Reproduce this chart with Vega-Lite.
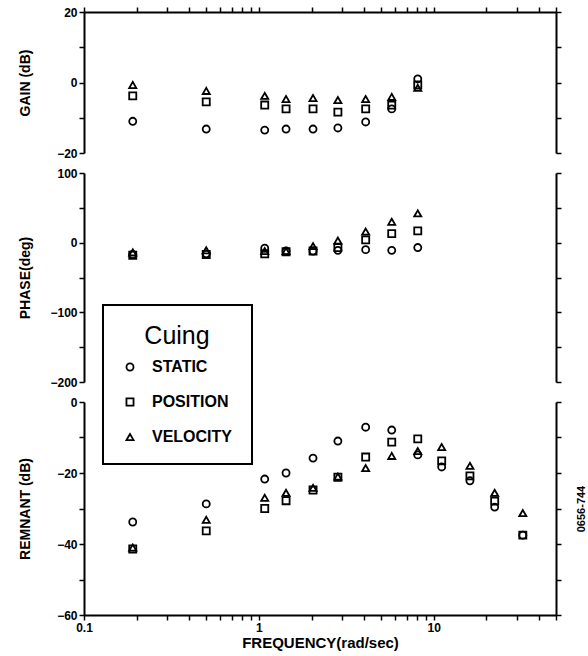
{
  "$schema": "https://vega.github.io/schema/vega-lite/v6.json",
  "padding": {"left": 18, "top": 6, "right": 0, "bottom": 1},
  "background": "white",
  "spacing": 8,
  "config": {
    "view": {"stroke": null},
    "font": "Liberation Sans",
    "axis": {"grid": false, "domainColor": "black", "domainWidth": 2, "tickColor": "black", "tickWidth": 1.5, "tickSize": 5, "labelFont": "Liberation Sans", "labelFontWeight": "bold", "labelFontSize": 12, "labelColor": "black", "labelPadding": 2, "titleFont": "Liberation Sans", "titleFontWeight": "bold", "titleFontSize": 14, "titleColor": "black"},
    "legend": {"strokeColor": "black", "strokeWidth": 2, "fillColor": "white"}
  },
  "datasets": {
    "d": [
      {"cue": "STATIC", "freq": 0.19, "gain": -11, "phase": -17, "remnant": -33.8},
      {"cue": "STATIC", "freq": 0.5, "gain": -13.2, "phase": -16, "remnant": -28.7},
      {"cue": "STATIC", "freq": 1.08, "gain": -13.5, "phase": -8, "remnant": -21.7},
      {"cue": "STATIC", "freq": 1.43, "gain": -13.2, "phase": -12, "remnant": -20},
      {"cue": "STATIC", "freq": 2.04, "gain": -13.2, "phase": -12, "remnant": -15.8},
      {"cue": "STATIC", "freq": 2.83, "gain": -12.9, "phase": -11, "remnant": -11},
      {"cue": "STATIC", "freq": 4.08, "gain": -11.2, "phase": -10, "remnant": -7.1},
      {"cue": "STATIC", "freq": 5.75, "gain": -7.5, "phase": -11, "remnant": -7.9},
      {"cue": "STATIC", "freq": 8.1, "gain": 1.0, "phase": -7, "remnant": -14.9},
      {"cue": "STATIC", "freq": 11.1, "gain": null, "phase": null, "remnant": -18.3},
      {"cue": "STATIC", "freq": 16.1, "gain": null, "phase": null, "remnant": -22.2},
      {"cue": "STATIC", "freq": 22.3, "gain": null, "phase": null, "remnant": -29.6},
      {"cue": "STATIC", "freq": 32.3, "gain": null, "phase": null, "remnant": -37.5},
      {"cue": "POSITION", "freq": 0.19, "gain": -3.8, "phase": -18, "remnant": -41.4},
      {"cue": "POSITION", "freq": 0.5, "gain": -5.5, "phase": -17, "remnant": -36.3},
      {"cue": "POSITION", "freq": 1.08, "gain": -6.4, "phase": -16, "remnant": -30},
      {"cue": "POSITION", "freq": 1.43, "gain": -7.5, "phase": -13, "remnant": -27.8},
      {"cue": "POSITION", "freq": 2.04, "gain": -7.5, "phase": -12, "remnant": -24.8},
      {"cue": "POSITION", "freq": 2.83, "gain": -8.4, "phase": -7, "remnant": -21.2},
      {"cue": "POSITION", "freq": 4.08, "gain": -7.5, "phase": 4, "remnant": -15.5},
      {"cue": "POSITION", "freq": 5.75, "gain": -6.4, "phase": 13, "remnant": -11.3},
      {"cue": "POSITION", "freq": 8.1, "gain": -0.7, "phase": 17, "remnant": -10.4},
      {"cue": "POSITION", "freq": 11.1, "gain": null, "phase": null, "remnant": -16.6},
      {"cue": "POSITION", "freq": 16.1, "gain": null, "phase": null, "remnant": -20.8},
      {"cue": "POSITION", "freq": 22.3, "gain": null, "phase": null, "remnant": -27.9},
      {"cue": "POSITION", "freq": 32.3, "gain": null, "phase": null, "remnant": -37.5},
      {"cue": "VELOCITY", "freq": 0.19, "gain": -0.7, "phase": -14, "remnant": -41},
      {"cue": "VELOCITY", "freq": 0.5, "gain": -2.4, "phase": -11, "remnant": -33.2},
      {"cue": "VELOCITY", "freq": 1.08, "gain": -3.8, "phase": -12, "remnant": -27},
      {"cue": "VELOCITY", "freq": 1.43, "gain": -4.7, "phase": -12, "remnant": -25.6},
      {"cue": "VELOCITY", "freq": 2.04, "gain": -4.4, "phase": -5, "remnant": -24.2},
      {"cue": "VELOCITY", "freq": 2.83, "gain": -5, "phase": 3, "remnant": -21},
      {"cue": "VELOCITY", "freq": 4.08, "gain": -4.7, "phase": 16, "remnant": -18.6},
      {"cue": "VELOCITY", "freq": 5.75, "gain": -4.1, "phase": 30, "remnant": -15.2},
      {"cue": "VELOCITY", "freq": 8.1, "gain": -1.5, "phase": 42, "remnant": -13.8},
      {"cue": "VELOCITY", "freq": 11.1, "gain": null, "phase": null, "remnant": -12.7},
      {"cue": "VELOCITY", "freq": 16.1, "gain": null, "phase": null, "remnant": -18},
      {"cue": "VELOCITY", "freq": 22.3, "gain": null, "phase": null, "remnant": -25.6},
      {"cue": "VELOCITY", "freq": 32.3, "gain": null, "phase": null, "remnant": -31.3}
    ]
  },
  "vconcat": [
    {
      "width": 472, "height": 141,
      "data": {"name": "d"},
      "transform": [{"filter": "isValid(datum.gain)"}],
      "encoding": {
        "x": {"field": "freq", "type": "quantitative", "scale": {"type": "log", "domain": [0.1, 50]},
              "axis": {"orient": "top", "labels": false, "title": null, "values": [0.1,0.2,0.3,0.4,0.5,0.6,0.7,0.8,0.9,1,2,3,4,5,6,7,8,9,10,20,30,40,50]}}
      },
      "layer": [
        {
          "mark": {"type": "point", "filled": false, "color": "black", "strokeWidth": 1.8, "size": 50, "opacity": 1},
          "encoding": {
            "y": {"field": "gain", "type": "quantitative", "scale": {"domain": [-20, 20]},
                  "axis": {"values": [-20,-10,0,10,20], "labelExpr": "datum.value % 20 == 0 ? datum.label : ''", "title": "GAIN (dB)", "titleX": -52}},
            "shape": {"field": "cue", "type": "nominal",
                      "scale": {"domain": ["STATIC", "POSITION", "VELOCITY"], "range": ["circle", "square", "triangle-up"]},
                      "legend": {"orient": "none", "legendX": 19, "legendY": 293, "title": "Cuing", "titleFontSize": 25, "titleFontWeight": "normal", "titleColor": "black", "titleAnchor": "middle", "titlePadding": 10, "labelFontSize": 16, "labelFontWeight": "bold", "labelColor": "black", "labelOffset": 14, "rowPadding": 19, "padding": 19, "strokeColor": "black", "fillColor": "white", "symbolStrokeColor": "black", "symbolStrokeWidth": 1.8, "symbolSize": 50, "symbolFillColor": "transparent"}}
          }
        },
        {
          "mark": {"type": "point", "opacity": 0},
          "encoding": {
            "y": {"field": "gain", "type": "quantitative", "scale": {"domain": [-20, 20]},
                  "axis": {"orient": "right", "values": [-20,-10,0,10,20], "labels": false, "title": null}}
          }
        }
      ],
      "resolve": {"axis": {"y": "independent"}}
    },
    {
      "width": 472, "height": 209,
      "data": {"name": "d"},
      "transform": [{"filter": "isValid(datum.phase)"}],
      "encoding": {
        "x": {"field": "freq", "type": "quantitative", "scale": {"type": "log", "domain": [0.1, 50]}, "axis": null}
      },
      "layer": [
        {
          "mark": {"type": "point", "filled": false, "color": "black", "strokeWidth": 1.8, "size": 50, "opacity": 1},
          "encoding": {
            "y": {"field": "phase", "type": "quantitative", "scale": {"domain": [-200, 100]},
                  "axis": {"values": [-200,-150,-100,-50,0,50,100], "labelExpr": "datum.value % 100 == 0 ? datum.label : ''", "title": "PHASE(deg)", "titleX": -52}},
            "shape": {"field": "cue", "type": "nominal"}
          }
        },
        {
          "mark": {"type": "point", "opacity": 0},
          "encoding": {
            "y": {"field": "phase", "type": "quantitative", "scale": {"domain": [-200, 100]},
                  "axis": {"orient": "right", "values": [-200,-150,-100,-50,0,50,100], "labels": false, "title": null}}
          }
        }
      ],
      "resolve": {"axis": {"y": "independent"}}
    },
    {
      "width": 472, "height": 213,
      "data": {"name": "d"},
      "encoding": {
        "x": {"field": "freq", "type": "quantitative", "scale": {"type": "log", "domain": [0.1, 50]},
              "axis": {"values": [0.1,0.2,0.3,0.4,0.5,0.6,0.7,0.8,0.9,1,2,3,4,5,6,7,8,9,10,20,30,40,50], "labelFlush": false, "labelExpr": "datum.value == 0.1 ? '0.1' : datum.value == 1 ? '1' : datum.value == 10 ? '10' : ''", "title": "FREQUENCY(rad/sec)", "titleFontSize": 15, "titlePadding": 2}}
      },
      "layer": [
        {
          "mark": {"type": "point", "filled": false, "color": "black", "strokeWidth": 1.8, "size": 50, "opacity": 1},
          "encoding": {
            "y": {"field": "remnant", "type": "quantitative", "scale": {"domain": [-60, 0]},
                  "axis": {"values": [-60,-50,-40,-30,-20,-10,0], "labelExpr": "datum.value % 20 == 0 ? datum.label : ''", "title": "REMNANT (dB)", "titleX": -52}},
            "shape": {"field": "cue", "type": "nominal"}
          }
        },
        {
          "mark": {"type": "point", "opacity": 0},
          "encoding": {
            "y": {"field": "remnant", "type": "quantitative", "scale": {"domain": [-60, 0]},
                  "axis": {"orient": "right", "values": [-60,-50,-40,-30,-20,-10,0], "labels": false, "title": "0656-744", "titleAngle": 270, "titleFontSize": 11, "titleX": 30}}
          }
        }
      ],
      "resolve": {"axis": {"y": "independent"}}
    }
  ],
  "resolve": {"scale": {"shape": "shared"}}
}
